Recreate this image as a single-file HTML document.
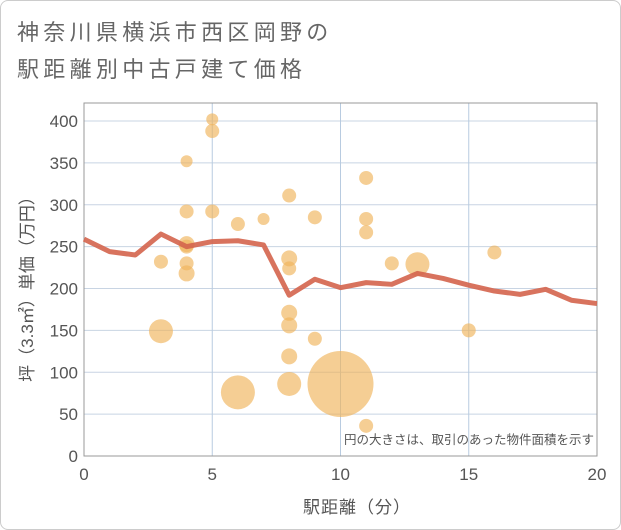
<!DOCTYPE html>
<html><head><meta charset="utf-8"><style>
body{margin:0;background:#fff;}
#c{position:relative;width:621px;height:530px;font-family:"Liberation Sans","Noto Sans CJK JP",sans-serif;}
.frame{position:absolute;left:0;top:0;width:619px;height:528px;border:1px solid #ccc;border-radius:8px;}
.title{position:absolute;left:17px;top:14px;font-size:22px;line-height:37px;color:#666;letter-spacing:4.3px;}
svg{position:absolute;left:0;top:0;}
</style></head><body>
<div id="c">
<div class="frame"></div>
<div class="title">神奈川県横浜市西区岡野の<br>駅距離別中古戸建て価格</div>
<svg id="s" width="621" height="530"></svg>
</div>
<script>
const xTicks=[0,5,10,15,20];
const yTicks=[0,50,100,150,200,250,300,350,400];
const lineX=[0,1,2,3,4,5,6,7,8,9,10,11,12,13,14,15,16,17,18,19,20];
const lineY=[259,244,240,265,250,256,257,252,192,211,201,207,205,218,212,204,197,193,199,186,182];
const bubX=[5,5,4,4,5,6,7,8,9,11,11,11,4,4,3,4,4,8,8,12,13,16,3,8,8,9,8,15,6,8,10,11];
const bubY=[402,388,352,292,292,277,283,311,285,332,283,267,253,250,232,230,218,236,224,230,229,243,149,171,156,140,119,150,76,86,86,36];
const bubR=[6,7,6,7,7,7,6,7,7,7,7,7,8,7,7,7,8,8,7,7,12,7,12,8,8,7,8,7,17,12,33,7];
const L=84,R=597,T=103,B=456;
const sx=v=>L+(v-0)/20*(R-L);
const sy=v=>B-v*(B-121)/400;
const s=document.getElementById('s');
const NS='http://www.w3.org/2000/svg';
function mk(t,a){const e=document.createElementNS(NS,t);for(const k in a)e.setAttribute(k,a[k]);s.appendChild(e);return e;}
let e;
yTicks.forEach(v=>{
 e=mk('line',{x1:L,x2:R,y1:sy(v),y2:sy(v),stroke:'#c8d4e3','stroke-width':1});
 
 
 e=mk('text',{x:L-6,y:sy(v)+6,'text-anchor':'end','font-size':17,fill:'#555'});e.textContent=v;
 
 
});
xTicks.forEach(v=>{
 e=mk('line',{x1:sx(v),x2:sx(v),y1:T,y2:B,stroke:'#b8cbe0','stroke-width':1});
 
 
 e=mk('text',{x:sx(v),y:B+24,'text-anchor':'middle','font-size':17,fill:'#555'});e.textContent=v;
 
 
});
e=mk('rect',{x:L,y:T,width:R-L,height:B-T,fill:'none',stroke:'#999','stroke-width':1});


bubX.forEach((x,i)=>{
 e=mk('circle',{cx:sx(x),cy:sy(bubY[i]),r:bubR[i],fill:'rgba(240,180,90,0.65)'});
 
 
});
e=mk('polyline',{points:lineX.map((x,i)=>sx(x)+','+sy(lineY[i])).join(' '),fill:'none',stroke:'#d4644c','stroke-opacity':0.9,'stroke-width':5,'stroke-linejoin':'round'});


e=mk('text',{x:594,y:444,'text-anchor':'end','font-size':12.5,fill:'#555'});e.textContent='円の大きさは、取引のあった物件面積を示す';


e=mk('text',{x:357,y:513,'text-anchor':'middle','font-size':17,fill:'#555','letter-spacing':1});e.textContent='駅距離（分）';


e=mk('text',{x:0,y:0,'text-anchor':'middle','font-size':17,fill:'#555',transform:'translate(33,285) rotate(-90)'});e.textContent='坪（3.3㎡）単価（万円）';


</script>
</body></html>
